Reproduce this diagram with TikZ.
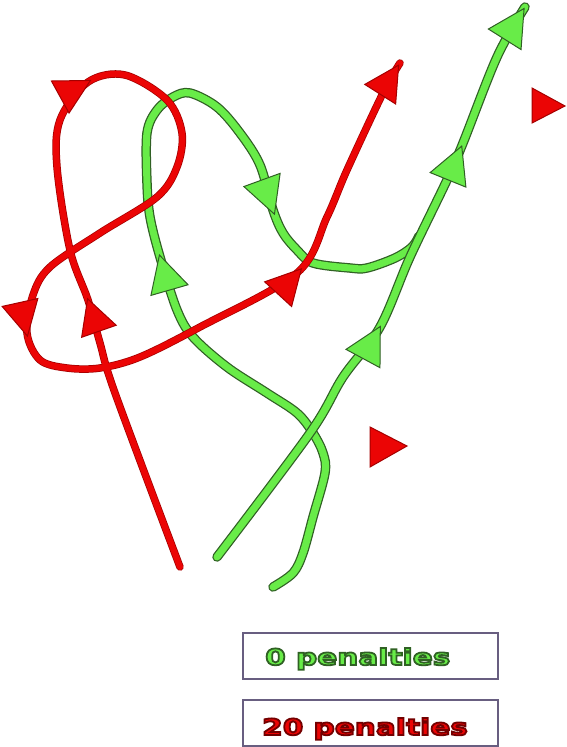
\documentclass[tikz,border=0pt]{standalone}
\usepackage{fontspec}
\newfontfamily\penfont[FakeStretch=1.32]{DejaVu Sans}
\usetikzlibrary{arrows.meta,decorations.markings}

\definecolor{redfill}{RGB}{235,5,5}
\definecolor{rededge}{RGB}{165,0,0}
\definecolor{greenfill}{RGB}{104,236,72}
\definecolor{greenedge}{RGB}{48,96,36}
\definecolor{boxedge}{RGB}{104,94,128}

% outlined text: fill, then stroke in a darker colour
\newcommand\rimtext[2]{\special{pdf:literal direct #1 RG 2 Tr 1.8 w}#2\special{pdf:literal direct 0 Tr}}

\tikzset{
  redtip/.tip={Triangle[length=36pt,width=38pt,line width=1pt,color=rededge,fill=redfill]},
  greentip/.tip={Triangle[length=38pt,width=40pt,line width=1pt,color=greenedge,fill=greenfill]},
}
\tikzstyle{red line}=[draw=redfill, line width=6pt, line cap=round,
  preaction={draw=rededge, line width=7.5pt, line cap=round}, postaction=decorate]
\tikzstyle{green line}=[draw=greenfill, line width=7pt, line cap=round,
  preaction={draw=greenedge, line width=9.5pt, line cap=round}, postaction=decorate]
\tikzstyle{penalty box}=[draw=boxedge, line width=2.5pt, minimum width=255pt, minimum height=46pt, inner sep=0pt]
\tikzstyle{penalty text}=[inner sep=0pt, anchor=base west, font=\penfont\bfseries\fontsize{22.4}{26}\selectfont]

\begin{document}
\begin{tikzpicture}[x=1pt, y=-1pt]
\useasboundingbox (0,0) rectangle (567,747);

% green curves underneath
\draw[green line, decoration={markings,
    mark=at position 418pt with {\arrow{greentip}},
    mark=at position 760pt with {\arrow{greentip}}}]
  plot[smooth, tension=0.55] coordinates {(273,587) (293,573) (303,553) (313,517) (325,473)
    (323,453) (313,433) (297,413) (267,393) (227,367) (193,337) (177,310) (160,257) (150,217)
    (147,183) (147,133) (157,110) (173,97) (190,93) (217,107) (240,133) (260,165) (273,210)
    (283,233) (297,250) (313,263) (350,268) (367,268) (395,258) (412,247) (419,236)};
\draw[green line, decoration={markings,
    mark=at position 284pt with {\arrow{greentip}},
    mark=at position 482pt with {\arrow{greentip}},
    mark=at position 0.999 with {\arrow{greentip}}}]
  plot[smooth, tension=0.55] coordinates {(217,557) (310,433) (343,377) (380,327) (410,257)
    (447,180) (463,143) (497,57) (525,7)};

% red curve on top
\draw[red line, decoration={markings,
    mark=at position 285pt with {\arrow{redtip}},
    mark=at position 519pt with {\arrow{redtip}},
    mark=at position 915pt with {\arrow{redtip}},
    mark=at position 1230pt with {\arrow{redtip}},
    mark=at position 0.999 with {\arrow{redtip}}}]
  plot[smooth, tension=0.55] coordinates {(180,567) (115,393) (100,343) (88,300) (70,250)
    (57,167) (60,120) (88,82) (125,75) (167,100) (182,133) (177,167) (157,197) (100,233)
    (50,267) (33,295) (27,333) (40,360) (67,368) (100,368) (140,357) (200,327) (297,273)
    (327,217) (347,170) (383,93) (400,63)};

% loose markers
\filldraw[fill=redfill, draw=rededge, line width=1pt] (532,88) -- (565,106) -- (532,123) -- cycle;
\filldraw[fill=redfill, draw=rededge, line width=1pt] (370,427) -- (407,446) -- (370,467) -- cycle;

% legend
\node[penalty box] (zero box) at (370.5,656) {};
\node[penalty box] (twenty box) at (370.5,723) {};
\node[penalty text, text=greenfill] (zero text) at (265,665) {\rimtext{0.19 0.38 0.14}{0 penalties}};
\node[penalty text, text=redfill] (twenty text) at (262,735) {\rimtext{0.45 0 0}{20 penalties}};

\end{tikzpicture}
\end{document}
